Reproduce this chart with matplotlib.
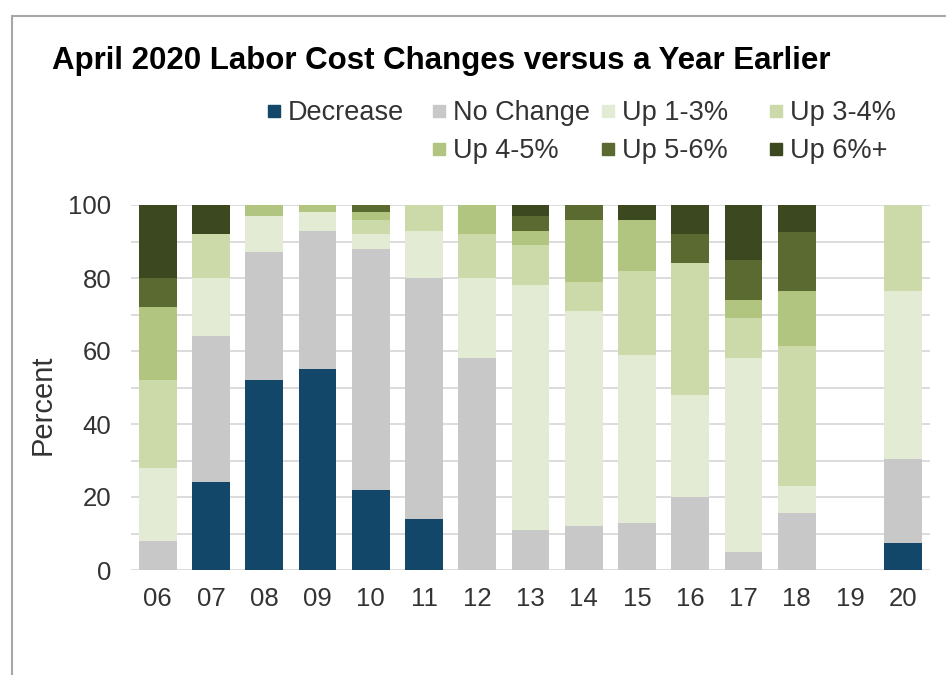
import numpy as np
import matplotlib
matplotlib.use("Agg")
import matplotlib.pyplot as plt
from matplotlib.patches import Rectangle

plt.rcParams['font.family'] = ['Liberation Sans', 'DejaVu Sans']

# data (percent of respondents)
years = ['06', '07', '08', '09', '10', '11', '12', '13', '14', '15', '16', '17', '18', '19', '20']
decrease = [0, 24, 52, 55, 22, 14, 0, 0, 0, 0, 0, 0, 0, 0, 7.5]
no_change = [8, 40, 35, 38, 66, 66, 58, 11, 12, 13, 20, 5, 15.5, 0, 23]
up_1_3 = [20, 16, 10, 5, 4, 13, 22, 67, 59, 46, 28, 53, 7.5, 0, 46]
up_3_4 = [24, 12, 0, 0, 4, 7, 12, 11, 8, 23, 36, 11, 38.5, 0, 23.5]
up_4_5 = [20, 0, 3, 2, 2, 0, 8, 4, 17, 14, 0, 5, 15, 0, 0]
up_5_6 = [8, 0, 0, 0, 2, 0, 0, 4, 4, 0, 8, 11, 16, 0, 0]
up_6_plus = [20, 8, 0, 0, 0, 0, 0, 3, 0, 4, 8, 15, 7.5, 0, 0]

series = [decrease, no_change, up_1_3, up_3_4, up_4_5, up_5_6, up_6_plus]
labels = ['Decrease', 'No Change', 'Up 1-3%', 'Up 3-4%', 'Up 4-5%', 'Up 5-6%', 'Up 6%+']
colors = ['#12476a', '#c8c8c8', '#e3ebd5', '#cbdaa8', '#b2c580', '#5a6a30', '#3c4820']

W, H = 946, 675
fig = plt.figure(figsize=(W / 100, H / 100), dpi=100)
ax = fig.add_axes([131 / W, 105 / H, 799 / W, 365 / H])

x = np.arange(len(years))
bottom = np.zeros(len(years))
for vals, lab, col in zip(series, labels, colors):
    ax.bar(x, vals, bottom=bottom, width=0.71, color=col, label=lab, zorder=3)
    bottom += np.array(vals)

ax.set_xlim(-0.5, len(years) - 0.5)
ax.set_ylim(0, 100)
ax.set_yticks(range(0, 101, 20))
ax.set_yticks(range(0, 101, 10), minor=True)
ax.set_xticks(x)
ax.set_xticklabels(years)
ax.grid(axis='y', which='both', color='#d9d9d9', lw=1.3, zorder=0)
for s in ax.spines.values():
    s.set_visible(False)
ax.tick_params(axis='both', which='both', length=0, labelsize=18.5, colors='#333333')
ax.tick_params(axis='y', pad=14)
ax.tick_params(axis='x', pad=12)

fig.text(43 / W, 1 - 405 / H, 'Percent', rotation=90, ha='center', va='center',
         fontsize=21, color='#333333')
fig.text(52 / W, 1 - 61 / H, 'April 2020 Labor Cost Changes versus a Year Earlier',
         ha='left', va='center', fontsize=22.5, fontweight='bold', color='black')

# legend grid like the original (second row starts in column 2)
leg_cols = [268, 433, 602, 770]
leg_rows = [111, 149]
leg_slots = [(0, 0), (0, 1), (0, 2), (0, 3), (1, 1), (1, 2), (1, 3)]
for (r, c), lab, col in zip(leg_slots, labels, colors):
    px, py = leg_cols[c], leg_rows[r]
    fig.patches.append(Rectangle((px / W, 1 - (py + 6) / H), 12 / W, 12 / H,
                                 transform=fig.transFigure, color=col))
    fig.text((px + 20) / W, 1 - (py + 2) / H, lab, ha='left', va='center',
             fontsize=19.5, color='#333333')

# outer chart frame (cut off on right and bottom)
fig.patches.append(Rectangle((12 / W, -0.1), 1.2, 1.1 - 16 / H, transform=fig.transFigure,
                             fill=False, edgecolor='#a6a6a6', lw=1.5))

fig.savefig('out.png', dpi=100)
